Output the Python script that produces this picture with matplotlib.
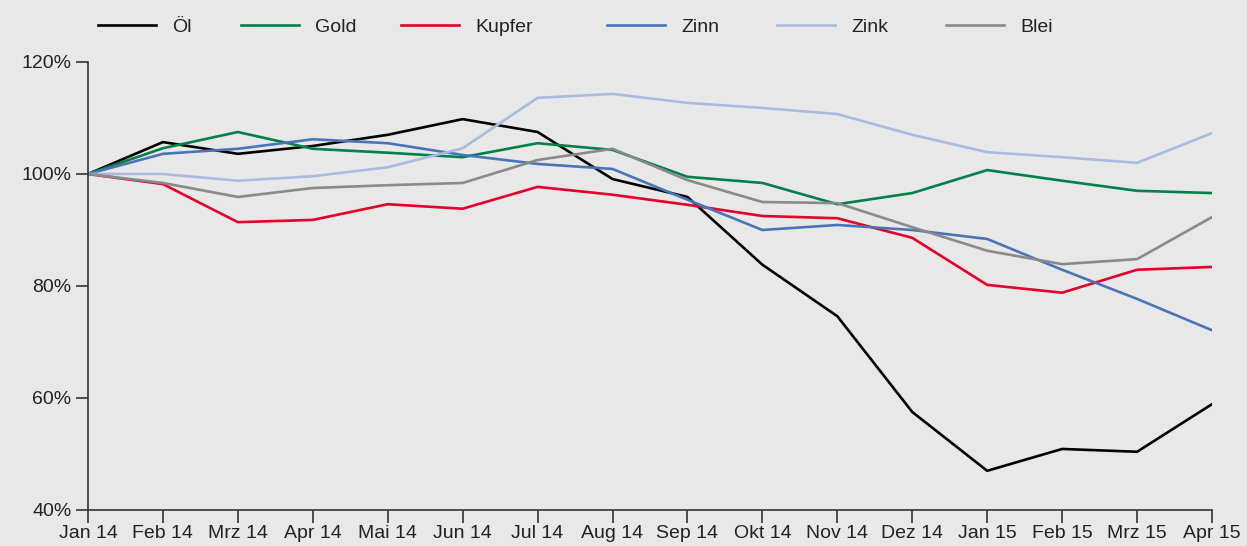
import matplotlib.pyplot as plt
import numpy as np

plt.rcParams['font.family'] = ['Liberation Sans', 'DejaVu Sans']

monate = ["Jan 14", "Feb 14", "Mrz 14", "Apr 14", "Mai 14", "Jun 14", "Jul 14", "Aug 14",
          "Sep 14", "Okt 14", "Nov 14", "Dez 14", "Jan 15", "Feb 15", "Mrz 15", "Apr 15"]

oel = [100, 105.7, 103.6, 105.0, 107.0, 109.8, 107.5, 99.1, 95.9, 83.8, 74.6, 57.5, 47.0, 50.9, 50.4, 58.9]
gold = [100, 104.6, 107.5, 104.5, 103.8, 103.0, 105.5, 104.3, 99.5, 98.4, 94.6, 96.6, 100.7, 98.8, 97.0, 96.6]
kupfer = [100, 98.2, 91.4, 91.8, 94.6, 93.8, 97.7, 96.3, 94.5, 92.5, 92.1, 88.6, 80.2, 78.8, 82.9, 83.4]
zinn = [100, 103.6, 104.5, 106.2, 105.5, 103.4, 101.8, 100.9, 95.4, 90.0, 90.9, 90.0, 88.4, 82.9, 77.7, 72.1]
zink = [100, 100.0, 98.8, 99.6, 101.2, 104.6, 113.6, 114.3, 112.7, 111.8, 110.7, 107.0, 103.9, 103.0, 102.0, 107.3]
blei = [100, 98.4, 95.9, 97.5, 98.0, 98.4, 102.5, 104.5, 98.9, 95.0, 94.8, 90.5, 86.3, 83.9, 84.8, 92.3]

namen = ["Öl", "Gold", "Kupfer", "Zinn", "Zink", "Blei"]
farben = ["#000000", "#00804a", "#e4002b", "#4a74b8", "#a9bbe1", "#8a8a8a"]
reihen = [oel, gold, kupfer, zinn, zink, blei]

# Startpunkte der Legendeneintraege (Pixel von links)
leg_x = [98, 241, 401, 607, 777, 946]

bg = "#e8e8e8"
fig = plt.figure(figsize=(12.47, 5.46), dpi=100, facecolor=bg)
ax = fig.add_axes([88/1247, 36/546, 1124/1247, 448/546], facecolor=bg)

x = np.arange(len(monate))
linien = []
for werte, name, farbe in zip(reihen, namen, farben):
    l, = ax.plot(x, werte, color=farbe, lw=1.9, label=name)
    linien.append(l)

ax.set_xlim(0, 15)
ax.set_ylim(40, 120)
ax.set_xticks(x)
ax.set_xticklabels(monate)
ax.set_yticks([40, 60, 80, 100, 120])
ax.set_yticklabels(["40%", "60%", "80%", "100%", "120%"])
for s in ["top", "right"]:
    ax.spines[s].set_visible(False)
for s in ["left", "bottom"]:
    ax.spines[s].set_color("#333333")
    ax.spines[s].set_linewidth(1.2)
ax.tick_params(axis="both", direction="out", length=9, width=1.2, color="#333333",
               labelsize=14, labelcolor="#222222")
ax.tick_params(axis="x", pad=2)
ax.tick_params(axis="y", pad=3)

for l, name, px in zip(linien, namen, leg_x):
    fig.legend([l], [name], loc="center left", bbox_to_anchor=(px/1247, 1 - 27/546),
               frameon=False, fontsize=14, handlelength=3.0, handletextpad=0.8,
               borderpad=0, borderaxespad=0, labelcolor="#222222")

fig.savefig("out.png", dpi=100, facecolor=bg)
